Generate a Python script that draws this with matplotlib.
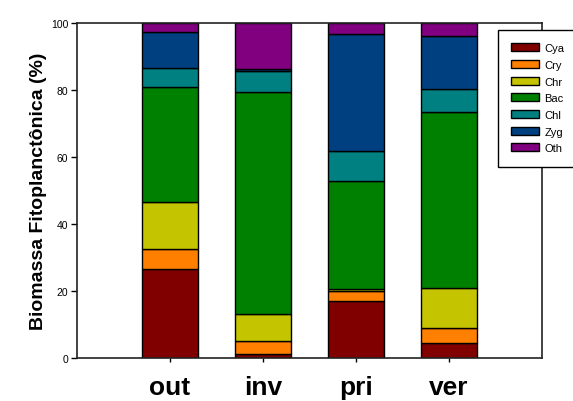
import matplotlib.pyplot as plt
import numpy as np

plt.rcParams['font.family'] = ['Liberation Sans', 'DejaVu Sans']

# seasons (x categories)
seasons = ['out', 'inv', 'pri', 'ver']
# phytoplankton groups, bottom to top
groups = ['Cya', 'Cry', 'Chr', 'Bac', 'Chl', 'Zyg', 'Oth']
colors = ['#800000', '#ff8000', '#c4c400', '#008000', '#008080', '#004080', '#800080']

# % biomass per group, one list per group (out, inv, pri, ver)
cya = [26.6, 1.2, 17.1, 4.6]
cry = [6.0, 3.9, 3.0, 4.4]
chr_ = [14.1, 8.1, 0.5, 12.0]
bac = [34.1, 66.1, 32.4, 52.5]
chl = [5.7, 6.3, 8.7, 6.7]
zyg = [10.8, 0.6, 35.2, 16.0]
oth = [2.7, 13.8, 3.1, 3.8]

values = [cya, cry, chr_, bac, chl, zyg, oth]

fig = plt.figure(figsize=(5.73, 4.02), dpi=100)
ax = fig.add_axes([0.134, 0.107, 0.812, 0.833])

x = np.arange(1, len(seasons) + 1)
bottom = np.zeros(len(seasons))
for name, vals, c in zip(groups, values, colors):
    ax.bar(x, vals, 0.6, bottom=bottom, color=c, edgecolor='black',
           linewidth=1.0, label=name)
    bottom += np.array(vals)

ax.set_xlim(0, 5)
ax.set_ylim(0, 100)
ax.set_xticks(x)
ax.set_xticklabels(seasons, fontsize=19, fontweight='bold')
ax.set_yticks([0, 20, 40, 60, 80, 100])
ax.tick_params(axis='y', labelsize=7.5, length=4, width=1, direction='out', pad=2)
ax.tick_params(axis='x', length=3, width=1, direction='out', pad=9)
ax.set_ylabel('Biomassa Fitoplanctônica (%)', fontsize=14, fontweight='bold', labelpad=3)
for s in ax.spines.values():
    s.set_linewidth(1.2)
    s.set_color('#222222')

leg = fig.legend(loc='upper left', bbox_to_anchor=(0.869, 0.923), fontsize=8,
                 frameon=True, fancybox=False, edgecolor='black', framealpha=1,
                 handlelength=2.5, handleheight=0.72, labelspacing=0.6,
                 borderpad=1.2, handletextpad=0.5, borderaxespad=0)
leg.get_frame().set_linewidth(1.0)

plt.savefig('out.png', dpi=100)
plt.close()
